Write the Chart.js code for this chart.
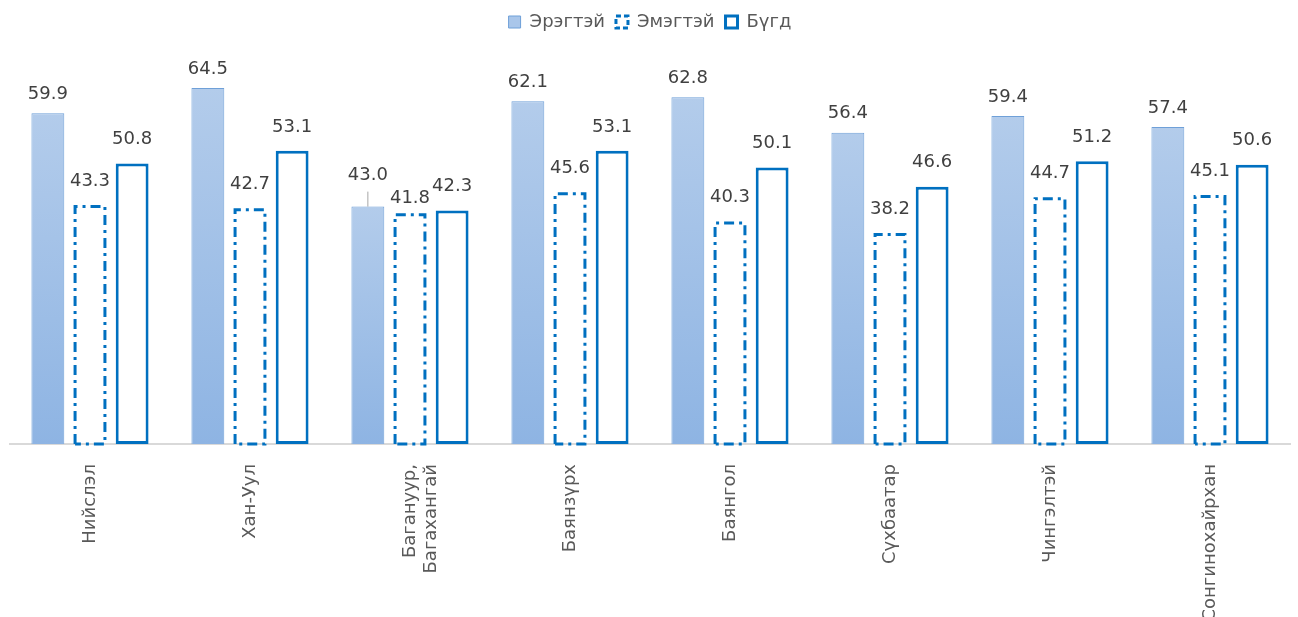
<!DOCTYPE html>
<html>
<head>
<meta charset="utf-8">
<script src="https://cdn.jsdelivr.net/npm/chart.js@4"></script>
<style>
  html, body { margin: 0; padding: 0; background: #fff; }
  #wrap { width: 1298px; height: 617px; }
</style>
</head>
<body>
<div id="wrap"><canvas id="chart"></canvas></div>
<script>
// data
const categories = ["Нийслэл", "Хан-Уул", ["Багануур,", "Багахангай"], "Баянзүрх", "Баянгол", "Сүхбаатар", "Чингэлтэй", "Сонгинохайрхан"];
const seriesNames = ["Эрэгтэй", "Эмэгтэй", "Бүгд"];
const male = [59.9, 64.5, 43.0, 62.1, 62.8, 56.4, 59.4, 57.4];
const female = [43.3, 42.7, 41.8, 45.6, 40.3, 38.2, 44.7, 45.1];
const total = [50.8, 53.1, 42.3, 53.1, 50.1, 46.6, 51.2, 50.6];

const blue = "#0070C0";
const font = "DejaVu Sans";

// per bar gradient for the light blue series
function maleFill(ctx) {
    const chart = ctx.chart;
    const y = chart.scales.y;
    if (!y || ctx.type !== "data") return "#A9C6EA";
    const top = y.getPixelForValue(ctx.raw);
    const bottom = y.getPixelForValue(0);
    if (!isFinite(top) || !isFinite(bottom) || top === bottom) return "#A9C6EA";
    const g = chart.ctx.createLinearGradient(0, top, 0, bottom);
    g.addColorStop(0, "#B3CCEB");
    g.addColorStop(1, "#8EB4E3");
    return g;
}

// dash-dot outline for the Эмэгтэй bars
const dashBars = {
    id: "dashBars",
    afterDatasetsDraw(chart) {
        const meta = chart.getDatasetMeta(1);
        const c = chart.ctx;
        c.save();
        c.strokeStyle = blue;
        c.lineWidth = 3;
        c.setLineDash([10, 5, 3, 5]);
        meta.data.forEach(el => {
            const p = el.getProps(["x", "y", "base", "width"], true);
            const l = p.x - p.width / 2 + 1.5, r = p.x + p.width / 2 - 1.5;
            c.beginPath();
            c.moveTo(l, p.base);
            c.lineTo(l, p.y + 1.5);
            c.lineTo(r, p.y + 1.5);
            c.lineTo(r, p.base);
            c.lineTo(l, p.base);
            c.stroke();
        });
        c.restore();
    }
};

// value labels above bars
const valueLabels = {
    id: "valueLabels",
    afterDatasetsDraw(chart) {
        const c = chart.ctx;
        const gap = [10, 15, 15];
        c.save();
        c.font = "18px '" + font + "'";
        c.fillStyle = "#404040";
        c.textAlign = "center";
        c.textBaseline = "bottom";
        chart.data.datasets.forEach((ds, di) => {
            chart.getDatasetMeta(di).data.forEach((el, i) => {
                let y = el.y - gap[di];
                // the two crowded labels in the 3rd group
                if (di === 0 && i === 2) {
                    y -= 12;
                    c.save();
                    c.strokeStyle = "#A6A6A6";
                    c.lineWidth = 1;
                    c.beginPath();
                    c.moveTo(el.x, y + 7);
                    c.lineTo(el.x, el.y);
                    c.stroke();
                    c.restore();
                }
                if (di === 1 && i === 2) y += 9;
                c.fillText(ds.data[i].toFixed(1), el.x, y);
            });
        });
        c.restore();
    }
};

new Chart(document.getElementById("chart"), {
    type: "bar",
    data: {
        labels: categories,
        datasets: [
            {
                label: seriesNames[0],
                data: male,
                backgroundColor: maleFill,
                borderColor: "#6FA0D8",
                borderWidth: 1,
                borderSkipped: "bottom"
            },
            {
                label: seriesNames[1],
                data: female,
                backgroundColor: "rgba(255,255,255,0)",
                borderWidth: 0
            },
            {
                label: seriesNames[2],
                data: total,
                backgroundColor: "#FFFFFF",
                borderColor: blue,
                borderWidth: 3,
                borderSkipped: false
            }
        ]
    },
    options: {
        responsive: true,
        maintainAspectRatio: false,
        animation: false,
        categoryPercentage: 0.79,
        barPercentage: 0.78,
        layout: { padding: { left: 10, right: 8, top: 2, bottom: 0 } },
        plugins: {
            tooltip: { enabled: false },
            legend: {
                position: "top",
                labels: {
                    color: "#595959",
                    font: { family: font, size: 18 },
                    boxWidth: 12,
                    boxHeight: 12,
                    padding: 11,
                    generateLabels: () => [
                        { text: seriesNames[0], fillStyle: "#A9C6EA", strokeStyle: "#6FA0D8", lineWidth: 1, datasetIndex: 0, fontColor: "#595959" },
                        { text: seriesNames[1], fillStyle: "#FFFFFF", strokeStyle: blue, lineWidth: 3, lineDash: [5, 3], datasetIndex: 1, fontColor: "#595959" },
                        { text: seriesNames[2], fillStyle: "#FFFFFF", strokeStyle: blue, lineWidth: 3, datasetIndex: 2, fontColor: "#595959" }
                    ]
                }
            }
        },
        scales: {
            x: {
                grid: { display: false },
                border: { display: true, color: "#D9D9D9", width: 2 },
                ticks: {
                    color: "#595959",
                    font: { family: font, size: 18 },
                    minRotation: 90,
                    maxRotation: 90,
                    padding: 12,
                    autoSkip: false
                },
                afterFit: s => { s.height = 173; }
            },
            y: {
                display: false,
                min: 0,
                max: 73
            }
        }
    },
    plugins: [dashBars, valueLabels]
});
</script>
</body>
</html>
